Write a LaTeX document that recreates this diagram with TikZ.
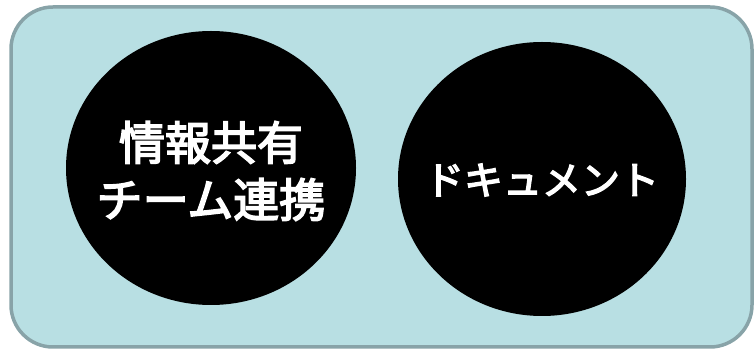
\documentclass[tikz,border=0pt]{standalone}
\usepackage{fontspec}
\newfontfamily\jp{Noto Sans CJK JP}[FakeBold=3.5]
\definecolor{panelfill}{HTML}{B8DFE3}
\definecolor{panelline}{HTML}{88A3A8}
\begin{document}
\begin{tikzpicture}[x=1pt,y=-1pt,
  panel/.style={draw=panelline,fill=panelfill,line width=3.5pt,rounded corners=42pt},
  blob/.style={fill=black,draw=none,inner sep=0pt},
  lbl/.style={text=white,align=center}]
\useasboundingbox (0,0) rectangle (755,352);
\draw[panel] (11,7) rectangle (752,347);
\fill[blob] (211,168) ellipse [x radius=145, y radius=137];
\fill[blob] (542,179) ellipse [x radius=144, y radius=137];
\node[lbl,font=\jp\fontsize{46}{57}\selectfont] (a) at (211,171) {情報共有\\チーム連携};
\node[lbl,font=\jp\fontsize{39}{46}\selectfont] (b) at (542,180) {ドキュメント};
\end{tikzpicture}
\end{document}
